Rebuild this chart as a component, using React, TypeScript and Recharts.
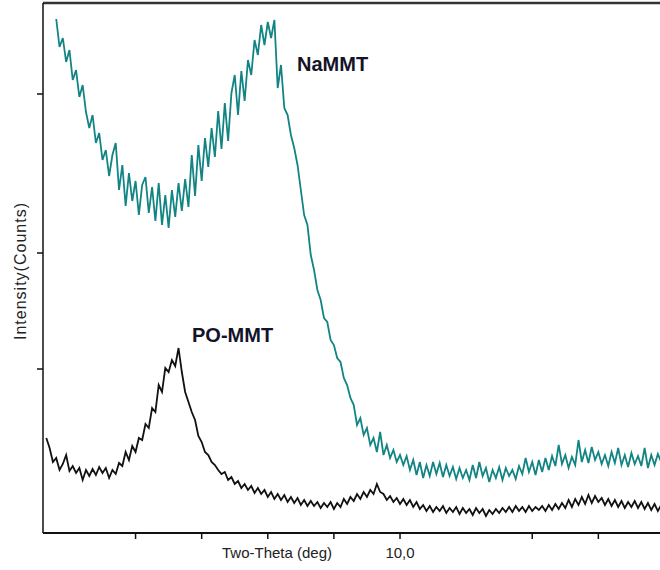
import React from "react";
import { LineChart, Line, XAxis, YAxis, ReferenceLine } from "recharts";

// scan grid (2-theta, deg)
const THETA_START = 4.65;
const THETA_STEP = 0.05;

// NaMMT intensity, one value per scan step
const NA_MMT: (number | null)[] = [
  null, null, null, 514, 486, 495, 471, 483, 453, 463,
  436, 448, 421, 405, 418, 390, 400, 373, 383, 357,
  378, 390, 343, 368, 327, 360, 332, 352, 318, 348,
  356, 320, 346, 312, 350, 308, 338, 305, 343, 316,
  350, 322, 354, 326, 378, 337, 388, 352, 395, 366,
  405, 376, 422, 384, 430, 392, 440, 458, 418, 462,
  432, 473, 458, 493, 478, 508, 488, 511, 495, 513,
  445, 468, 425, 418, 398, 385, 368, 343, 318, 308,
  278, 263, 243, 233, 215, 211, 193, 188, 175, 171,
  155, 148, 135, 128, 108, 115, 98, 105, 88, 95,
  81, 101, 78, 88, 75, 83, 71, 78, 68, 77,
  63, 73, 58, 71, 55, 68, 57, 71, 59, 70,
  56, 68, 57, 66, 54, 65, 55, 63, 53, 68,
  55, 71, 57, 65, 51, 63, 55, 66, 53, 65,
  57, 63, 54, 67, 59, 75, 61, 71, 58, 73,
  61, 75, 63, 77, 67, 88, 69, 78, 65, 76,
  68, 93, 71, 83, 70, 86, 73, 81, 69, 78,
  67, 81, 70, 85, 68, 78, 66, 80, 69, 77,
  67, 85, 65, 78, 68, 79, 71,
];

// PO-MMT intensity
const PO_MMT: number[] = [
  95, 85, 71, 75, 63, 69, 78, 62, 67, 60,
  65, 53, 63, 57, 64, 58, 66, 60, 65, 55,
  63, 59, 70, 67, 81, 73, 87, 81, 95, 93,
  109, 105, 125, 121, 148, 141, 165, 161, 173, 167,
  185, 161, 141, 131, 121, 113, 97, 91, 81, 78,
  71, 68, 63, 59, 61, 53, 56, 49, 52, 45,
  49, 43, 47, 40, 45, 39, 43, 36, 41, 34,
  39, 33, 38, 31, 36, 30, 35, 28, 33, 27,
  32, 27, 31, 25, 30, 26, 31, 24, 30, 26,
  34, 29, 36, 32, 39, 34, 41, 36, 43, 39,
  49, 41, 39, 33, 37, 31, 35, 29, 34, 28,
  33, 26, 31, 24, 28, 22, 27, 21, 26, 22,
  27, 20, 25, 21, 26, 19, 25, 20, 24, 18,
  25, 20, 24, 17, 23, 19, 24, 20, 25, 21,
  26, 21, 27, 22, 26, 21, 27, 22, 26, 23,
  27, 22, 28, 23, 29, 24, 30, 25, 33, 26,
  34, 28, 36, 29, 38, 30, 37, 31, 35, 28,
  34, 27, 33, 26, 32, 25, 31, 26, 32, 25,
  31, 24, 30, 23, 29, 22, 28,
];

const X_TICKS = [6, 7, 8, 9, 10, 12, 13, 14];
const Y_TICKS = [164, 280, 439];

const data = PO_MMT.map((po, i) => ({
  theta: +(THETA_START + i * THETA_STEP).toFixed(2),
  naMMT: NA_MMT[i],
  poMMT: po,
}));

const font = "'Liberation Sans', Arial, sans-serif";

export default function App() {
  return (
    <div
      style={{
        position: "fixed",
        left: 0,
        top: 0,
        width: 660,
        height: 570,
        overflow: "hidden",
        background: "#fff",
        fontFamily: font,
      }}
    >
      <LineChart width={720} height={570} data={data} margin={{ top: 3, right: 0, bottom: 0, left: 0 }}>
        <XAxis
          dataKey="theta"
          type="number"
          domain={[4.6, 14.84]}
          allowDataOverflow
          ticks={X_TICKS}
          interval={0}
          tickFormatter={(v) => (v === 10 ? "10,0" : "")}
          tick={{ fill: "#222", fontSize: 15, fontFamily: font }}
          tickSize={6}
          tickMargin={8}
          height={37}
          axisLine={{ stroke: "#111", strokeWidth: 2 }}
          tickLine={{ stroke: "#111", strokeWidth: 1.5 }}
        />
        <YAxis
          type="number"
          domain={[0, 530]}
          allowDataOverflow
          ticks={Y_TICKS}
          tickFormatter={() => ""}
          width={43}
          tickSize={6}
          axisLine={{ stroke: "#111", strokeWidth: 1.5 }}
          tickLine={{ stroke: "#111", strokeWidth: 1.5 }}
        />
        <ReferenceLine y={530} stroke="#333" strokeWidth={2.5} />
        <Line
          type="linear"
          dataKey="naMMT"
          stroke="#128484"
          strokeWidth={1.8}
          dot={false}
          isAnimationActive={false}
        />
        <Line
          type="linear"
          dataKey="poMMT"
          stroke="#111"
          strokeWidth={1.8}
          dot={false}
          isAnimationActive={false}
        />
      </LineChart>

      <div style={{ position: "absolute", left: 297, top: 54, fontSize: 20, lineHeight: "20px", fontWeight: "bold", color: "#141428" }}>
        NaMMT
      </div>
      <div style={{ position: "absolute", left: 192, top: 325, fontSize: 20, lineHeight: "20px", fontWeight: "bold", color: "#141428" }}>
        PO-MMT
      </div>
      <div style={{ position: "absolute", left: 222, top: 545, fontSize: 15, lineHeight: "15px", color: "#222", whiteSpace: "nowrap" }}>
        Two-Theta (deg)
      </div>
      <div
        style={{
          position: "absolute",
          left: 21,
          top: 271,
          fontSize: 16,
          lineHeight: "16px",
          color: "#222",
          letterSpacing: 1,
          whiteSpace: "nowrap",
          transform: "translate(-50%, -50%) rotate(-90deg)",
        }}
      >
        Intensity(Counts)
      </div>
    </div>
  );
}
